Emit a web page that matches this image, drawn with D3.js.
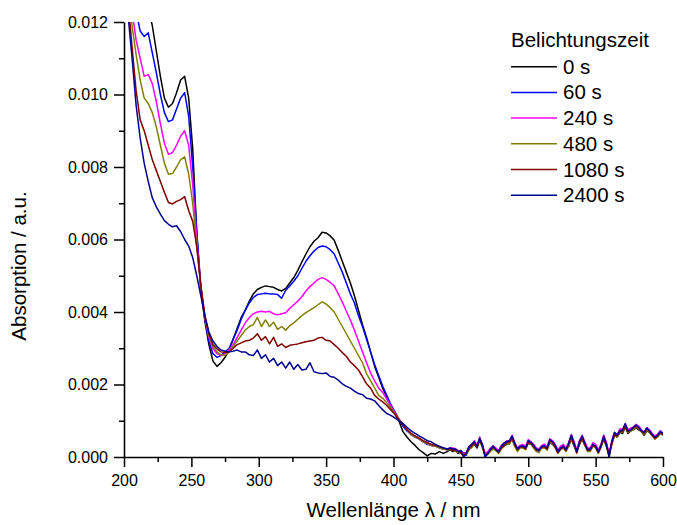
<!DOCTYPE html>
<html>
<head>
<meta charset="utf-8">
<script src="https://cdn.jsdelivr.net/npm/d3@7"></script>
<style>
    body { margin: 0; background: #fff; }
    text { font-family: "Liberation Sans", Arial, sans-serif; fill: #000; }
</style>
</head>
<body>
<svg id="chart" width="677" height="525"></svg>
<script>
/*
    UV/Vis spectra, Belichtungszeit series
*/

// wavelength grid, nm (3 nm up to 440, then 2 nm)
const wavelengths = [
    200, 203, 206, 209, 212, 215, 218, 221, 224, 227, 230, 233, 236, 239, 242, 245, 248, 251, 254, 257,
    260, 263, 266, 269, 272, 275, 278, 281, 284, 287, 290, 293, 296, 299, 302, 305, 308, 311, 314, 317,
    320, 323, 326, 329, 332, 335, 338, 341, 344, 347, 350, 353, 356, 359, 362, 365, 368, 371, 374, 377,
    380, 383, 386, 389, 392, 395, 398, 401, 404, 407, 410, 413, 416, 419, 422, 425, 428, 431, 434, 437, 440,
    442, 444, 446, 448, 450, 452, 454, 456, 458, 460, 462, 464, 466, 468, 470, 472, 474, 476, 478, 480,
    482, 484, 486, 488, 490, 492, 494, 496, 498, 500, 502, 504, 506, 508, 510, 512, 514, 516, 518, 520,
    522, 524, 526, 528, 530, 532, 534, 536, 538, 540, 542, 544, 546, 548, 550, 552, 554, 556, 558, 560,
    562, 564, 566, 568, 570, 572, 574, 576, 578, 580, 582, 584, 586, 588, 590, 592, 594, 596, 598, 600
];

// absorption values in units of 1e-3
const abs0s = [
    18.5, 17.2, 16.0, 14.9, 13.9, 13.0, 12.4, 11.9, 11.2, 10.5, 9.9, 9.65, 9.75, 10.05, 10.4, 10.5, 9.9, 8.5, 6.2, 4.6,
    3.75, 3.1, 2.65, 2.5, 2.6, 2.75, 2.95, 3.25, 3.55, 3.85, 4.05, 4.3, 4.5, 4.62, 4.68, 4.72, 4.7, 4.68, 4.62, 4.58,
    4.65, 4.8, 4.95, 5.15, 5.38, 5.6, 5.8, 5.95, 6.05, 6.2, 6.18, 6.1, 5.98, 5.7, 5.4, 5.1, 4.8, 4.45, 4.05, 3.65,
    3.3, 2.9, 2.5, 2.2, 1.9, 1.65, 1.4, 1.2, 1.0, 0.7, 0.55, 0.42, 0.32, 0.2, 0.12, 0.03, 0.1, 0.08, 0.15, 0.1, 0.15,
    0.2, 0.15, 0.18, 0.1, 0.15, 0.12, 0.08, 0.2, 0.28, 0.35, 0.25, 0.45, 0.28, 0.08, 0.12, 0.18, 0.25, 0.22, 0.12, 0.25,
    0.3, 0.35, 0.38, 0.5, 0.3, 0.22, 0.28, 0.28, 0.22, 0.38, 0.35, 0.28, 0.18, 0.2, 0.25, 0.28, 0.2, 0.4, 0.35, 0.28,
    0.12, 0.22, 0.25, 0.22, 0.3, 0.5, 0.3, 0.18, 0.35, 0.5, 0.32, 0.22, 0.18, 0.3, 0.28, 0.18, 0.28, 0.5, 0.3, 0.1,
    0.35, 0.6, 0.55, 0.68, 0.65, 0.82, 0.65, 0.72, 0.75, 0.8, 0.75, 0.7, 0.6, 0.72, 0.68, 0.6, 0.5, 0.58, 0.65, 0.6
];
const abs60s = [
    15.5, 14.3, 13.2, 12.3, 11.75, 11.6, 11.7, 11.15, 10.6, 10.0, 9.5, 9.25, 9.3, 9.6, 9.9, 10.05, 9.4, 8.0, 6.2, 4.7,
    3.8, 3.2, 2.85, 2.75, 2.8, 2.9, 3.0, 3.25, 3.5, 3.8, 4.05, 4.25, 4.4, 4.48, 4.5, 4.52, 4.5, 4.5, 4.48, 4.38,
    4.6, 4.72, 4.85, 5.0, 5.2, 5.4, 5.55, 5.68, 5.78, 5.82, 5.8, 5.72, 5.6, 5.35, 5.1, 4.8, 4.5, 4.25, 3.9, 3.6,
    3.25, 2.9, 2.55, 2.25, 1.95, 1.7, 1.45, 1.25, 1.05, 0.85, 0.72, 0.62, 0.55, 0.5, 0.42, 0.35, 0.32, 0.3, 0.25, 0.22, 0.2,
    0.25, 0.22, 0.2, 0.12, 0.18, 0.08, 0.05, 0.28, 0.35, 0.38, 0.3, 0.52, 0.35, 0.02, 0.08, 0.22, 0.3, 0.18, 0.12, 0.3,
    0.38, 0.42, 0.45, 0.52, 0.38, 0.18, 0.3, 0.32, 0.25, 0.4, 0.42, 0.32, 0.22, 0.15, 0.3, 0.32, 0.25, 0.42, 0.45, 0.32,
    0.15, 0.22, 0.32, 0.18, 0.38, 0.6, 0.38, 0.12, 0.42, 0.52, 0.38, 0.22, 0.2, 0.32, 0.3, 0.12, 0.32, 0.58, 0.38, 0.02,
    0.42, 0.62, 0.6, 0.75, 0.72, 0.9, 0.7, 0.72, 0.8, 0.88, 0.8, 0.7, 0.65, 0.8, 0.72, 0.6, 0.55, 0.62, 0.72, 0.65
];
const abs240s = [
    14.5, 13.3, 12.3, 11.5, 11.0, 10.5, 10.55, 10.3, 9.8, 9.2, 8.65, 8.35, 8.4, 8.6, 8.85, 9.0, 8.6, 7.5, 6.0, 4.7,
    3.85, 3.3, 3.0, 2.85, 2.8, 2.85, 2.95, 3.1, 3.3, 3.5, 3.7, 3.85, 3.95, 4.0, 4.02, 4.0, 4.02, 3.95, 3.92, 3.95,
    3.98, 4.1, 4.2, 4.3, 4.42, 4.58, 4.7, 4.8, 4.9, 4.95, 4.9, 4.82, 4.72, 4.5, 4.28, 4.02, 3.78, 3.5, 3.2, 2.9,
    2.6, 2.32, 2.1, 1.9, 1.78, 1.6, 1.42, 1.22, 1.05, 0.9, 0.75, 0.62, 0.55, 0.5, 0.42, 0.38, 0.32, 0.3, 0.28, 0.22, 0.2,
    0.25, 0.25, 0.22, 0.18, 0.15, 0.1, 0.12, 0.3, 0.32, 0.45, 0.32, 0.55, 0.3, 0.1, 0.15, 0.25, 0.3, 0.25, 0.18, 0.32,
    0.38, 0.45, 0.42, 0.6, 0.4, 0.25, 0.32, 0.35, 0.3, 0.48, 0.42, 0.35, 0.25, 0.22, 0.32, 0.35, 0.28, 0.5, 0.45, 0.35,
    0.2, 0.3, 0.35, 0.25, 0.4, 0.62, 0.42, 0.2, 0.45, 0.6, 0.42, 0.25, 0.25, 0.4, 0.35, 0.2, 0.35, 0.6, 0.4, 0.1,
    0.45, 0.68, 0.62, 0.78, 0.75, 0.9, 0.75, 0.8, 0.82, 0.9, 0.85, 0.75, 0.68, 0.8, 0.75, 0.65, 0.58, 0.62, 0.72, 0.65
];
const abs480s = [
    14.0, 13.0, 11.9, 11.1, 10.4, 9.9, 9.75, 9.5, 9.1, 8.6, 8.1, 7.8, 7.82, 8.0, 8.2, 8.28, 7.8, 7.0, 5.8, 4.7,
    3.85, 3.35, 3.05, 2.9, 2.82, 2.8, 2.9, 3.05, 3.2, 3.35, 3.5, 3.6, 3.65, 3.85, 3.6, 3.78, 3.6, 3.72, 3.52, 3.6,
    3.5, 3.62, 3.7, 3.8, 3.9, 3.98, 4.05, 4.12, 4.2, 4.28, 4.22, 4.12, 4.0, 3.8, 3.6, 3.4, 3.2, 3.0, 2.8, 2.6,
    2.3, 2.1, 1.9, 1.7, 1.62, 1.5, 1.35, 1.2, 1.05, 0.9, 0.75, 0.62, 0.55, 0.5, 0.42, 0.38, 0.32, 0.3, 0.25, 0.22, 0.2,
    0.2, 0.2, 0.15, 0.12, 0.1, 0.02, 0.08, 0.22, 0.25, 0.38, 0.28, 0.48, 0.25, 0.05, 0.08, 0.15, 0.22, 0.18, 0.1, 0.22,
    0.3, 0.38, 0.35, 0.5, 0.3, 0.15, 0.25, 0.25, 0.2, 0.4, 0.35, 0.25, 0.15, 0.12, 0.25, 0.25, 0.2, 0.42, 0.35, 0.25,
    0.1, 0.2, 0.25, 0.15, 0.3, 0.52, 0.32, 0.1, 0.35, 0.5, 0.32, 0.15, 0.15, 0.3, 0.25, 0.1, 0.25, 0.5, 0.3, 0.02,
    0.35, 0.6, 0.55, 0.7, 0.68, 0.85, 0.68, 0.72, 0.75, 0.82, 0.78, 0.7, 0.62, 0.75, 0.68, 0.58, 0.5, 0.55, 0.65, 0.6
];
const abs1080s = [
    14.0, 12.6, 11.3, 10.1, 9.3, 9.0, 8.6, 8.2, 7.9, 7.6, 7.3, 7.02, 6.98, 7.05, 7.1, 7.18, 6.8, 6.5, 5.8, 4.75,
    3.9, 3.4, 3.1, 2.98, 2.9, 2.88, 2.9, 3.0, 3.1, 3.15, 3.2, 3.22, 3.28, 3.4, 3.22, 3.32, 3.12, 3.3, 3.05, 3.12,
    3.02, 3.08, 3.1, 3.12, 3.15, 3.18, 3.2, 3.22, 3.28, 3.3, 3.22, 3.2, 3.1, 3.0, 2.88, 2.78, 2.62, 2.52, 2.4, 2.22,
    2.02, 1.9, 1.7, 1.6, 1.52, 1.42, 1.3, 1.18, 1.02, 0.9, 0.75, 0.65, 0.58, 0.52, 0.45, 0.4, 0.35, 0.32, 0.28, 0.25, 0.22,
    0.22, 0.18, 0.2, 0.15, 0.12, 0.05, 0.1, 0.25, 0.3, 0.4, 0.28, 0.5, 0.3, 0.02, 0.1, 0.2, 0.28, 0.2, 0.12, 0.25,
    0.32, 0.4, 0.4, 0.52, 0.35, 0.2, 0.28, 0.28, 0.22, 0.4, 0.38, 0.28, 0.2, 0.18, 0.28, 0.28, 0.22, 0.45, 0.4, 0.28,
    0.12, 0.22, 0.28, 0.18, 0.35, 0.55, 0.35, 0.12, 0.38, 0.52, 0.35, 0.18, 0.2, 0.32, 0.28, 0.12, 0.3, 0.52, 0.32, 0.05,
    0.4, 0.62, 0.58, 0.72, 0.7, 0.85, 0.7, 0.75, 0.8, 0.85, 0.8, 0.72, 0.65, 0.8, 0.7, 0.6, 0.52, 0.58, 0.68, 0.62
];
const abs2400s = [
    13.5, 12.2, 11.0, 9.7, 8.8, 8.1, 7.6, 7.15, 6.9, 6.7, 6.52, 6.42, 6.35, 6.38, 6.22, 6.0, 5.82, 5.5, 5.0, 4.45,
    3.9, 3.45, 3.2, 3.05, 2.95, 2.92, 2.9, 2.92, 2.95, 2.9, 2.9, 2.82, 2.8, 2.95, 2.72, 2.82, 2.62, 2.72, 2.52, 2.62,
    2.45, 2.62, 2.42, 2.55, 2.4, 2.42, 2.6, 2.35, 2.32, 2.3, 2.32, 2.22, 2.2, 2.12, 2.02, 1.95, 1.9, 1.82, 1.75, 1.72,
    1.62, 1.6, 1.55, 1.42, 1.3, 1.2, 1.15, 1.08, 1.0, 0.92, 0.82, 0.72, 0.65, 0.58, 0.52, 0.45, 0.42, 0.35, 0.3, 0.25, 0.22,
    0.25, 0.22, 0.22, 0.15, 0.18, 0.0, 0.1, 0.28, 0.35, 0.42, 0.3, 0.52, 0.32, 0.0, 0.1, 0.22, 0.3, 0.2, 0.15, 0.3,
    0.38, 0.42, 0.45, 0.58, 0.38, 0.22, 0.3, 0.3, 0.25, 0.45, 0.4, 0.32, 0.22, 0.18, 0.3, 0.3, 0.25, 0.48, 0.42, 0.32,
    0.15, 0.25, 0.3, 0.2, 0.38, 0.6, 0.38, 0.15, 0.42, 0.58, 0.38, 0.2, 0.22, 0.35, 0.3, 0.15, 0.32, 0.58, 0.35, 0.0,
    0.42, 0.68, 0.6, 0.72, 0.75, 0.92, 0.72, 0.75, 0.82, 0.88, 0.82, 0.72, 0.68, 0.8, 0.72, 0.62, 0.55, 0.6, 0.7, 0.65
];

const seriesLabels = ["0 s", "60 s", "240 s", "480 s", "1080 s", "2400 s"];
const seriesColors = ["#000000", "#0000ff", "#ff00ff", "#808000", "#800000", "#000090"];
const seriesValues = [abs0s, abs60s, abs240s, abs480s, abs1080s, abs2400s];

const xTicks = [200, 250, 300, 350, 400, 450, 500, 550, 600];
const xMinorTicks = [225, 275, 325, 375, 425, 475, 525, 575];
const yTicks = [0, 0.002, 0.004, 0.006, 0.008, 0.010, 0.012];
const yMinorTicks = [0.001, 0.003, 0.005, 0.007, 0.009, 0.011];

const UNIT = 1e-3;

class SpectraChart {
    constructor() {
        this.margin = { top: 22, right: 14, bottom: 68, left: 124 };
        this.width = 677;
        this.height = 525;
        this.innerW = this.width - this.margin.left - this.margin.right;
        this.innerH = this.height - this.margin.top - this.margin.bottom;

        this.x = d3.scaleLinear().domain([200, 600]).range([0, this.innerW]);
        this.y = d3.scaleLinear().domain([0, 0.012]).range([this.innerH, 0]);

        this.series = seriesLabels.map((label, i) => ({
            label,
            color: seriesColors[i],
            points: wavelengths.map((w, j) => ({ w, a: seriesValues[i][j] * UNIT }))
        }));

        this.setupSvg();
        this.drawLines();
        this.drawAxes();
        this.drawLegend();
    }

    setupSvg() {
        this.svg = d3.select("#chart");
        this.svg.append("defs")
            .append("clipPath")
            .attr("id", "plot-clip")
            .append("rect")
            .attr("width", this.innerW)
            .attr("height", this.innerH);
        this.g = this.svg.append("g")
            .attr("transform", `translate(${this.margin.left},${this.margin.top})`);
    }

    drawLines() {
        const line = d3.line()
            .x(d => this.x(d.w))
            .y(d => this.y(d.a));

        this.g.append("g")
            .attr("clip-path", "url(#plot-clip)")
            .selectAll("path")
            .data(this.series)
            .join("path")
            .attr("fill", "none")
            .attr("stroke", d => d.color)
            .attr("stroke-width", 1.5)
            .attr("stroke-linejoin", "round")
            .attr("d", d => line(d.points));
    }

    styleAxis(sel) {
        sel.select(".domain").attr("stroke-width", 1.6);
        sel.selectAll(".tick line").attr("stroke-width", 1.5);
        sel.selectAll("text").attr("font-size", 16).attr("font-family", null);
    }

    drawAxes() {
        // minor ticks first, under the major axis
        this.g.append("g")
            .attr("transform", `translate(0,${this.innerH})`)
            .call(d3.axisBottom(this.x).tickValues(xMinorTicks).tickSize(5).tickFormat(""))
            .call(sel => sel.select(".domain").remove())
            .call(sel => sel.selectAll(".tick line").attr("stroke-width", 1.5));
        this.g.append("g")
            .call(d3.axisLeft(this.y).tickValues(yMinorTicks).tickSize(5).tickFormat(""))
            .call(sel => sel.select(".domain").remove())
            .call(sel => sel.selectAll(".tick line").attr("stroke-width", 1.5));

        this.g.append("g")
            .attr("transform", `translate(0,${this.innerH})`)
            .call(d3.axisBottom(this.x).tickValues(xTicks).tickSize(10).tickSizeOuter(0).tickPadding(8))
            .call(sel => this.styleAxis(sel));
        this.g.append("g")
            .call(d3.axisLeft(this.y).tickValues(yTicks).tickSize(10).tickSizeOuter(0).tickPadding(6)
                .tickFormat(d3.format(".3f")))
            .call(sel => this.styleAxis(sel));

        this.svg.append("text")
            .attr("x", this.margin.left + this.innerW / 2)
            .attr("y", 517)
            .attr("text-anchor", "middle")
            .attr("font-size", 20.5)
            .text("Wellenlänge λ / nm");

        this.svg.append("text")
            .attr("transform", "translate(26,266) rotate(-90)")
            .attr("text-anchor", "middle")
            .attr("font-size", 20.5)
            .text("Absorption / a.u.");
    }

    drawLegend() {
        const lg = this.svg.append("g").attr("transform", "translate(511,0)");

        lg.append("text")
            .attr("x", 0)
            .attr("y", 47)
            .attr("font-size", 20.5)
            .text("Belichtungszeit");

        const items = lg.selectAll("g.item")
            .data(this.series)
            .join("g")
            .attr("class", "item")
            .attr("transform", (d, i) => `translate(0,${66.7 + i * 25.7})`);

        items.append("line")
            .attr("x1", 0)
            .attr("x2", 46)
            .attr("stroke", d => d.color)
            .attr("stroke-width", 1.5);

        items.append("text")
            .attr("x", 52)
            .attr("y", 7)
            .attr("font-size", 20.5)
            .text(d => d.label);
    }
}

new SpectraChart();
</script>
</body>
</html>
